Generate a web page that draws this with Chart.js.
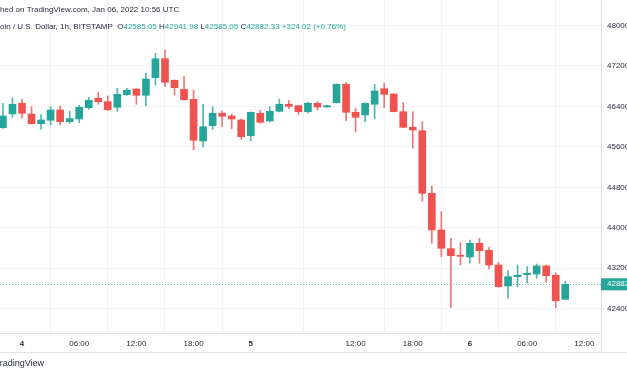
<!DOCTYPE html>
<html>
<head>
<meta charset="utf-8">
<script src="https://cdn.jsdelivr.net/npm/chart.js@4.4.1/dist/chart.umd.min.js"></script>
<style>
  html, body { margin: 0; padding: 0; background: #fff; }
  canvas { display: block; }
</style>
</head>
<body>
<canvas id="btc" width="627" height="376"></canvas>
<script>
// BTC/USD 1h candles (Bitstamp), Jan 3 22:00 -> Jan 6 10:00 UTC
const openP = [45980, 46251, 46462, 46251, 46059, 46126, 46330, 46098, 46152, 46375,
  46561, 46494, 46383, 46632, 46745, 46620, 46969, 47344, 46917, 46739,
  46541, 45717, 46019, 46265, 46211, 46132, 45822, 46265, 46112, 46304,
  46443, 46415, 46296, 46462, 46389, 46474, 46838, 46284, 46231, 46443,
  46751, 46646, 46296, 45988, 45920, 44682, 43957, 43587, 43456, 43423,
  43694, 43555, 43264, 42849, 43033, 43072, 43086, 43245, 43061, 42585.05];
const highP = [46462, 46573, 46541, 46395, 46237, 46395, 46409, 46310, 46423, 46581,
  46680, 46607, 46759, 46759, 46750, 47062, 47451, 47516, 46925, 46988,
  46725, 46443, 46395, 46310, 46251, 46152, 46290, 46330, 46395, 46547,
  46514, 46420, 46482, 46494, 46423, 46845, 46870, 46363, 46470, 46838,
  46858, 46650, 46474, 46296, 46098, 44827, 44319, 43792, 43705, 43759,
  43792, 43614, 43318, 43152, 43264, 43231, 43284, 43264, 43112, 42941.98];
const lowP = [45964, 46185, 46166, 46050, 45948, 46033, 46033, 46067, 46079, 46344,
  46443, 46316, 46304, 46620, 46443, 46415, 46818, 46791, 46627, 46522,
  45539, 45592, 45948, 45999, 45960, 45750, 45723, 46067, 46098, 46290,
  46356, 46237, 46265, 46330, 46385, 46468, 46118, 45901, 46098, 46152,
  46375, 46290, 45980, 45572, 44530, 43694, 43429, 42420, 43264, 43298,
  43298, 43185, 42823, 42606, 42835, 42903, 43001, 42922, 42420, 42585.05];
const closeP = [46211, 46443, 46265, 46059, 46132, 46330, 46098, 46158, 46383, 46522,
  46494, 46336, 46640, 46719, 46620, 46943, 47344, 46878, 46771, 46534,
  45731, 45999, 46265, 46205, 46152, 45802, 46284, 46087, 46304, 46443,
  46403, 46296, 46462, 46389, 46415, 46838, 46284, 46185, 46462, 46706,
  46640, 46296, 45988, 45934, 44682, 43957, 43595, 43448, 43436, 43694,
  43547, 43264, 42835, 43033, 43061, 43100, 43245, 43053, 42558.31, 42882.33];

// tick labels, placed on the bar index they belong to (one hour is missing on Jan 5)
const xTickIndex = [2, 8, 14, 20, 26, 37, 43, 49, 55, 61];
const xTickLabels = ['4', '06:00', '12:00', '18:00', '5', '12:00', '18:00', '6', '06:00', '12:00'];
const dayTicks = [2, 26, 49];
const yTicks = [42400, 43200, 44000, 44800, 45600, 46400, 47200, 48000];

const UP = '#26a69a';
const DOWN = '#ef5350';
const TEXT = '#2a2e39';
const FONT = '"Liberation Sans", Arial, sans-serif';

const n = closeP.length;
const isUp = closeP.map((c, i) => c >= openP[i]);

const bodies = openP.map((o, i) => ({ x: i, y: [o, closeP[i]] }));
const wicks = lowP.map((l, i) => ({ x: i, y: [l, highP[i]] }));

const decor = {
    id: 'tvDecor',
    beforeDatasetsDraw(chart) {
        const { ctx, chartArea, scales } = chart;
        const y = Math.round(scales.y.getPixelForValue(closeP[n - 1])) + 0.5;
        ctx.save();
        ctx.strokeStyle = 'rgba(38,166,154,0.75)';
        ctx.setLineDash([1, 2]);
        ctx.lineWidth = 1;
        ctx.beginPath();
        ctx.moveTo(chartArea.left, y);
        ctx.lineTo(chartArea.right, y);
        ctx.stroke();
        ctx.restore();
    },
    afterDraw(chart) {
        const { ctx, chartArea, scales } = chart;
        ctx.save();

        // axis frame lines
        ctx.strokeStyle = '#e0e3eb';
        ctx.lineWidth = 1;
        ctx.beginPath();
        ctx.moveTo(chartArea.right + 0.5, 0);
        ctx.lineTo(chartArea.right + 0.5, 352);
        ctx.moveTo(0, 352.5);
        ctx.lineTo(627, 352.5);
        ctx.stroke();

        // last price label
        const last = closeP[n - 1];
        const ly = scales.y.getPixelForValue(last);
        ctx.fillStyle = UP;
        ctx.fillRect(chartArea.right, ly - 6, 30, 12);
        ctx.fillStyle = '#fff';
        ctx.font = '8px ' + FONT;
        ctx.textBaseline = 'middle';
        ctx.fillText(last.toFixed(2), chartArea.right + 6, ly);

        // header
        ctx.fillStyle = TEXT;
        ctx.font = '8px ' + FONT;
        const pub = 'Published on TradingView.com, Jan 06, 2022 10:56 UTC';
        ctx.fillText(pub, -ctx.measureText('Publis').width, 10);

        let x = -ctx.measureText('Bitc').width;
        const parts = [
            ['Bitcoin / U.S. Dollar, 1h, BITSTAMP  ', TEXT],
            ['O', TEXT], [openP[n - 1].toFixed(2) + ' ', UP],
            ['H', TEXT], [highP[n - 1].toFixed(2) + ' ', UP],
            ['L', TEXT], [lowP[n - 1].toFixed(2) + ' ', UP],
            ['C', TEXT], [closeP[n - 1].toFixed(2) + ' ', UP]
        ];
        const chg = closeP[n - 1] - closeP[n - 2];
        const pct = chg / closeP[n - 2] * 100;
        parts.push(['+' + chg.toFixed(2) + ' (+' + pct.toFixed(2) + '%)', UP]);
        parts.forEach(([t, c]) => {
            ctx.fillStyle = c;
            ctx.fillText(t, x, 27);
            x += ctx.measureText(t).width;
        });

        // watermark
        ctx.fillStyle = TEXT;
        ctx.font = '9px ' + FONT;
        ctx.fillText('TradingView', -ctx.measureText('T').width, 364);
        ctx.restore();
    }
};

new Chart(document.getElementById('btc'), {
    type: 'bar',
    data: {
        datasets: [
            {
                label: 'body',
                data: bodies,
                backgroundColor: isUp.map(u => u ? UP : DOWN),
                barThickness: 7,
                minBarLength: 1,
                grouped: false,
                order: 0
            },
            {
                label: 'wick',
                data: wicks,
                backgroundColor: isUp.map(u => u ? 'rgba(38,166,154,0.8)' : 'rgba(239,83,80,0.8)'),
                barThickness: 1,
                grouped: false,
                order: 1
            }
        ]
    },
    options: {
        responsive: false,
        animation: false,
        layout: { padding: 0 },
        plugins: {
            legend: { display: false },
            tooltip: { enabled: false }
        },
        scales: {
            x: {
                type: 'linear',
                min: -0.31,
                max: 62.75,
                offset: false,
                grid: { color: '#f0f3fa', drawTicks: false },
                border: { color: '#e0e3eb' },
                afterBuildTicks: (scale) => {
                    scale.ticks = xTickIndex.map(v => ({ value: v }));
                },
                afterFit: (scale) => {
                    scale.height = 43;
                    scale.paddingLeft = 0;
                    scale.paddingRight = 0;
                },
                ticks: {
                    autoSkip: false,
                    maxRotation: 0,
                    padding: 6,
                    color: TEXT,
                    font: (c) => ({
                        family: FONT,
                        size: 8,
                        weight: c.tick && dayTicks.includes(c.tick.value) ? 'bold' : 'normal'
                    }),
                    callback: (v) => xTickLabels[xTickIndex.indexOf(v)]
                }
            },
            y: {
                position: 'right',
                min: 41919,
                max: 48505,
                grid: { color: '#f0f3fa', drawTicks: false },
                border: { color: '#e0e3eb' },
                afterBuildTicks: (scale) => {
                    scale.ticks = yTicks.map(v => ({ value: v }));
                },
                afterFit: (scale) => {
                    scale.width = 26;
                    scale.paddingTop = 0;
                    scale.paddingBottom = 0;
                },
                ticks: {
                    autoSkip: false,
                    padding: 6,
                    color: TEXT,
                    font: { family: FONT, size: 8 },
                    callback: (v) => String(v)
                }
            }
        }
    },
    plugins: [decor]
});
</script>
</body>
</html>
